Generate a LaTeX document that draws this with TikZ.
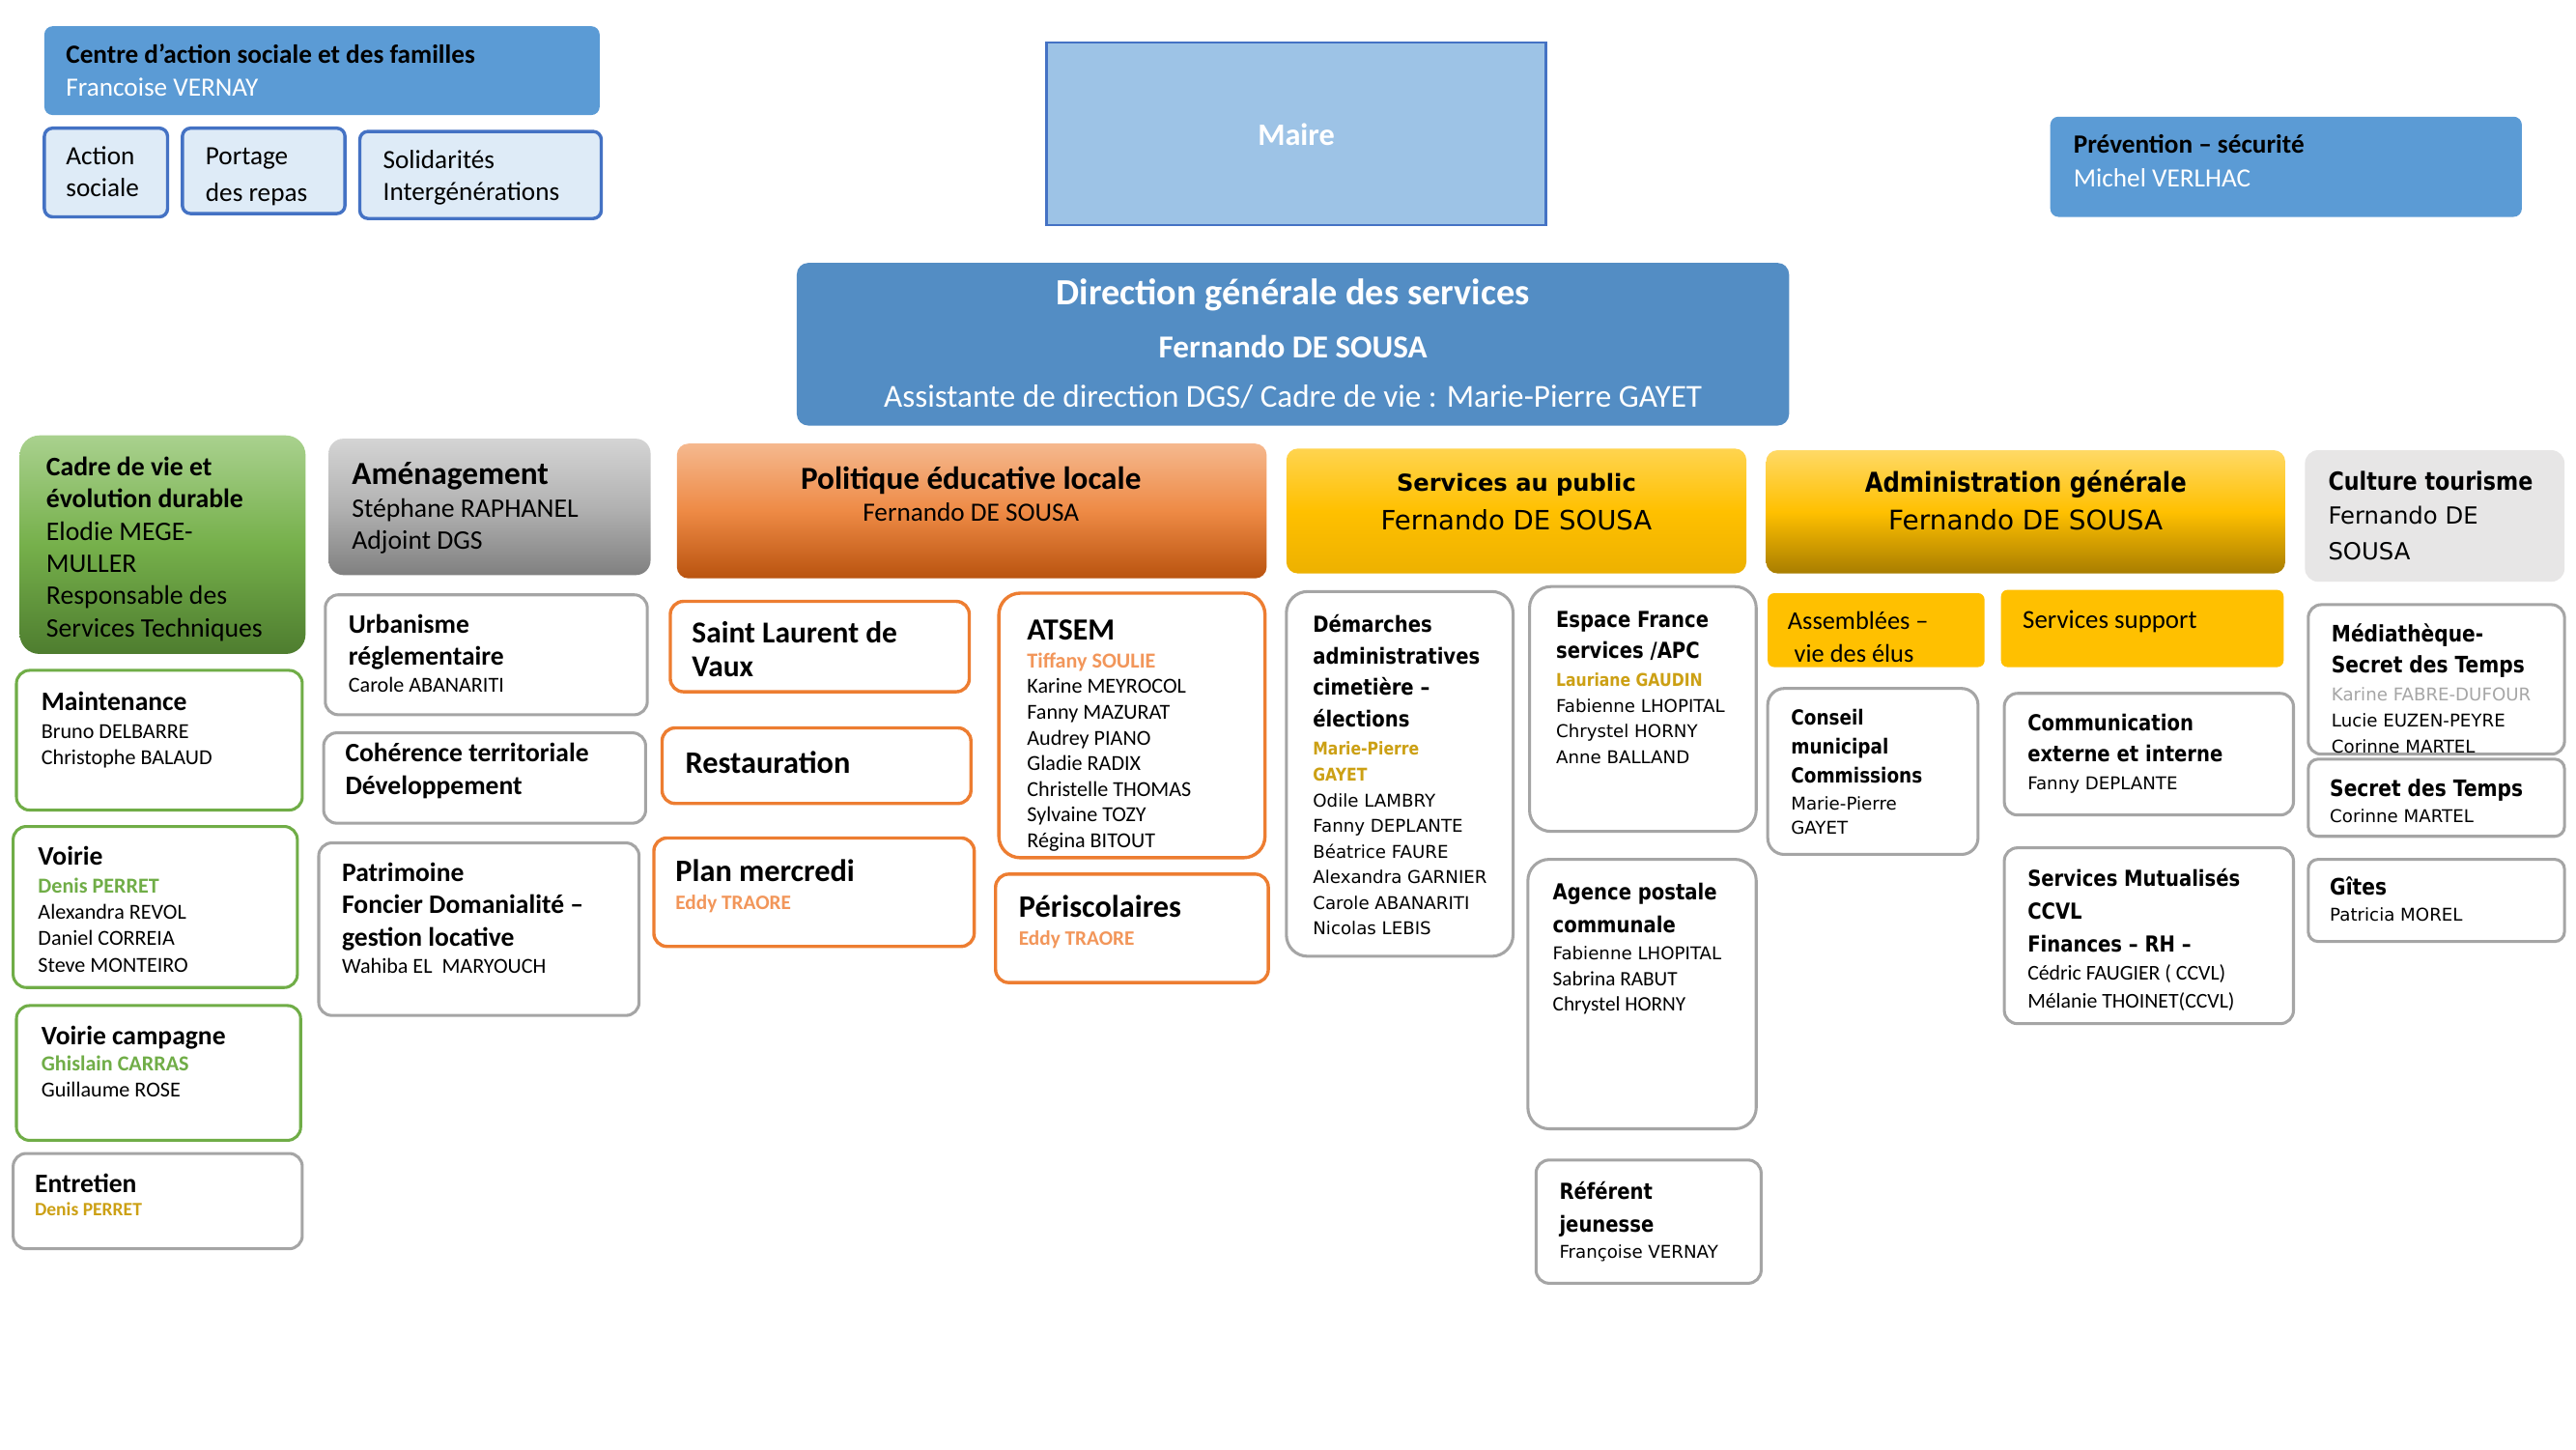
\documentclass[tikz,border=0pt]{standalone}
\usepackage{fontspec}
\setmainfont{Carlito}
\newfontfamily\tah{DejaVu Sans}[BoldFeatures={FakeStretch=0.86}]
\newfontfamily\verd{DejaVu Sans}
\definecolor{cblue}{HTML}{5B9BD5}
\definecolor{dgsblue}{RGB}{83,141,196}
\definecolor{maireblue}{HTML}{9DC3E6}
\definecolor{bordblue}{HTML}{4472C4}
\definecolor{paleblue}{HTML}{DEEBF7}
\definecolor{grn}{HTML}{70AD47}
\definecolor{gry}{HTML}{A5A5A5}
\definecolor{gry2}{HTML}{A6A6A6}
\definecolor{org}{HTML}{ED7D31}
\definecolor{orgtxt}{HTML}{F2965A}
\definecolor{gold}{RGB}{204,160,20}
\definecolor{ylw}{HTML}{FFC000}
\definecolor{ltgray}{HTML}{E7E6E6}
\definecolor{cadtop}{HTML}{A9D18E}
\definecolor{cadmid}{HTML}{76B04B}
\definecolor{cadbot}{HTML}{4E7D2F}
\definecolor{amtop}{HTML}{D4D4D4}
\definecolor{ammid}{HTML}{B2B2B2}
\definecolor{ambot}{HTML}{808080}
\definecolor{poltop}{HTML}{F5B88E}
\definecolor{polmid}{HTML}{EE8A45}
\definecolor{polbot}{HTML}{B9530F}
\definecolor{saptop}{HTML}{FFD44F}
\definecolor{sapmid}{HTML}{FFC000}
\definecolor{sapbot}{HTML}{EDB100}
\definecolor{admtop}{HTML}{FFD966}
\definecolor{admmid}{HTML}{FFC000}
\definecolor{admbot}{HTML}{A87D00}
\def\tfam{}
\tikzset{fam/.code={\def\tfam{#1}}}
\newcommand\bx[6]{\pgfmathsetmacro\bw{#5-#3}\pgfmathsetmacro\bh{#6-#4}%
  \node[#2,anchor=north west,minimum width=\bw pt,minimum height=\bh pt,inner sep=0pt,outer sep=0pt] (#1) at (#3,#4) {};}
\newcommand\tx[7][]{\node[anchor=north west,inner sep=0pt,align=left,font={\tfam\fontsize{#5}{#6}\selectfont},#1] (#2) at (#3,{#4+0.33*#5-0.7*#6}) {\strut#7};}
\begin{document}
\begin{tikzpicture}[x=1pt,y=-1pt,
  gbox/.style={draw=gry,line width=1.8pt,fill=white,rounded corners=8pt},
  grbox/.style={draw=grn,line width=1.8pt,fill=white,rounded corners=8pt},
  obox/.style={draw=org,line width=2pt,fill=white,rounded corners=8pt},
  bbox/.style={draw=bordblue,line width=2pt,fill=paleblue,rounded corners=5pt},
  tb/.style={fam={\tah\bfseries}},
  tr/.style={fam={\tah}},
  cb/.style={fam={\bfseries}}]
\useasboundingbox[fill=white] (0,0) rectangle (1568,882);

% CCAS
\bx{ccas}{fill=cblue,rounded corners=5pt}{27}{16}{365}{70}
\tx{tccas}{40}{33}{16}{20}{\textbf{Centre d’action sociale et des familles}\\\textcolor{white}{Francoise VERNAY}}
\bx{act}{bbox}{27}{78}{102}{132}
\tx{tact}{40}{94.7}{16}{19.6}{Action\\sociale}
\bx{port}{bbox}{111}{78}{210}{130}
\tx{tport}{125}{95}{16}{22}{Portage\\des repas}
\bx{sol}{bbox}{219}{80}{366}{133}
\tx{tsol}{233}{97}{16}{19.6}{Solidarités\\Intergénérations}

% Maire
\bx{maire}{draw=bordblue,line width=1.5pt,fill=maireblue}{637}{26}{941}{137}
\tx[anchor=north,align=center,text=white,cb]{tmaire}{789}{82}{19}{23}{Maire}

% Prevention
\bx{prev}{fill=cblue,rounded corners=5pt}{1248}{71}{1535}{132}
\tx{tprev}{1262}{88}{16}{20}{\textbf{Prévention – sécurité}\\\textcolor{white}{Michel VERLHAC}}

% DGS
\bx{dgs}{fill=dgsblue,rounded corners=7pt}{485}{160}{1089}{259}
\tx[anchor=north,align=center,text=white,cb]{tdgs1}{787}{178}{22.5}{27}{Direction générale des services}
\tx[anchor=north,align=center,text=white,cb]{tdgs2}{787}{211}{19.5}{23}{Fernando DE SOUSA}
\tx[anchor=north,align=center,text=white]{tdgs3}{787}{241}{19.5}{23}{Assistante de direction DGS/ Cadre de vie : Marie-Pierre GAYET}

% Headers
\bx{cadre}{top color=cadtop,bottom color=cadbot,middle color=cadmid,rounded corners=12pt}{12}{265}{186}{398}
\tx{tcadre}{28}{284}{16.3}{19.6}{\textbf{Cadre de vie et}\\\textbf{évolution durable}\\Elodie MEGE-\\MULLER\\Responsable des\\Services Techniques}

\bx{amen}{top color=amtop,bottom color=ambot,middle color=ammid,rounded corners=9pt}{200}{267}{396}{350}
\tx[cb]{tamen1}{214}{288}{19.6}{23}{Aménagement}
\tx{tamen2}{214}{309}{16.3}{19.5}{Stéphane RAPHANEL\\Adjoint DGS}

\bx{pol}{top color=poltop,bottom color=polbot,middle color=polmid,rounded corners=7pt}{412}{270}{771}{352}
\tx[anchor=north,align=center,cb]{tpol1}{591}{291}{19.5}{23}{Politique éducative locale}
\tx[anchor=north,align=center]{tpol2}{591}{312}{16}{19}{Fernando DE SOUSA}

\bx{sap}{top color=saptop,bottom color=sapbot,middle color=sapmid,rounded corners=7pt}{783}{273}{1063}{349}
\tx[anchor=north,align=center,fam={\verd\bfseries}]{tsap1}{923}{294}{14.2}{18}{Services au public}
\tx[anchor=north,align=center,fam={\verd}]{tsap2}{923}{317}{16.2}{20}{Fernando DE SOUSA}

\bx{adm}{top color=admtop,bottom color=admbot,middle color=admmid,rounded corners=7pt}{1075}{274}{1391}{349}
\tx[anchor=north,align=center,tb]{tadm1}{1233}{294}{16.6}{20}{Administration générale}
\tx[anchor=north,align=center,tr]{tadm2}{1233}{317}{16.4}{20}{Fernando DE SOUSA}

\bx{cult}{fill=ltgray,rounded corners=8pt}{1403}{274}{1561}{354}
\tx[tb]{tcult1}{1417}{293}{15.2}{19}{Culture tourisme}
\tx[tr]{tcult2}{1417}{314}{14.3}{21.5}{Fernando DE\\SOUSA}

% Cadre de vie column
\bx{maint}{grbox}{10}{408}{184}{493}
\tx[cb]{tmaint1}{25}{427}{16.2}{19.5}{Maintenance}
\tx{tmaint2}{25}{445}{13}{16}{Bruno DELBARRE\\Christophe BALAUD}
\bx{voirie}{grbox}{8}{503}{181}{601}
\tx[cb]{tvoi1}{23}{521}{16.2}{19.5}{Voirie}
\tx{tvoi2}{23}{539}{13}{16}{\textcolor{grn}{\textbf{Denis PERRET}}\\Alexandra REVOL\\Daniel CORREIA\\Steve MONTEIRO}
\bx{vcamp}{grbox}{10}{612}{183}{694}
\tx[cb]{tvc1}{25}{630}{16.2}{19.5}{Voirie campagne}
\tx{tvc2}{25}{647}{13}{16}{\textcolor{grn}{\textbf{Ghislain CARRAS}}\\Guillaume ROSE}
\bx{entr}{gbox}{8}{702}{184}{760}
\tx[cb]{tent1}{21}{720}{16.2}{19.5}{Entretien}
\tx[cb,text=gold]{tent2}{21}{736}{11.5}{14}{Denis PERRET}

% Amenagement column
\bx{urb}{gbox}{198}{362}{394}{435}
\tx[cb]{turb1}{212}{380}{16.2}{19.5}{Urbanisme\\réglementaire}
\tx{turb2}{212}{417}{13}{16}{Carole ABANARITI}
\bx{coh}{gbox}{197}{446}{393}{501}
\tx[cb]{tcoh}{210}{458}{16.2}{20}{Cohérence territoriale\\Développement}
\bx{pat}{gbox}{194}{513}{389}{618}
\tx[cb]{tpat1}{208}{531}{16.2}{19.6}{Patrimoine\\Foncier Domanialité –\\gestion locative}
\tx{tpat2}{208}{588}{13}{16}{Wahiba EL\ \ MARYOUCH}

% Politique educative column
\bx{slv}{obox}{408}{366}{590}{421}
\tx[cb]{tslv}{421}{385}{18.5}{20.5}{Saint Laurent de\\Vaux}
\bx{rest}{obox}{403}{443}{591}{489}
\tx[cb]{trest}{417}{464}{19}{22}{Restauration}
\bx{plan}{obox}{398}{510}{593}{576}
\tx[cb]{tplan1}{411}{530}{19}{22}{Plan mercredi}
\tx[cb,text=orgtxt]{tplan2}{411}{549}{12.5}{15}{Eddy TRAORE}
\bx{atsem}{obox,rounded corners=13pt}{608}{361}{770}{522}
\tx[cb]{tats1}{625}{383}{18.7}{22}{ATSEM}
\tx{tats2}{625}{402}{13}{15.6}{\textcolor{orgtxt}{\textbf{Tiffany SOULIE}}\\Karine MEYROCOL\\Fanny MAZURAT\\Audrey PIANO\\Gladie RADIX\\Christelle THOMAS\\Sylvaine TOZY\\Régina BITOUT}
\bx{peri}{obox}{606}{532}{772}{598}
\tx[cb]{tperi1}{620}{552}{19}{22}{Périscolaires}
\tx[cb,text=orgtxt]{tperi2}{620}{571}{12.5}{15}{Eddy TRAORE}

% Services au public column
\bx{dem}{gbox,rounded corners=13pt}{783}{360}{921}{582}
\tx[tb]{tdem1}{799}{380}{13.4}{19.3}{Démarches\\administratives\\cimetière –\\élections}
\tx[tr]{tdem2}{799}{456}{10.7}{15.6}{\textcolor{gold}{\textbf{Marie-Pierre}}\\\textcolor{gold}{\textbf{GAYET}}\\Odile LAMBRY\\Fanny DEPLANTE\\Béatrice FAURE\\Alexandra GARNIER\\Carole ABANARITI\\Nicolas LEBIS}
\bx{esp}{gbox,rounded corners=13pt}{931}{357}{1069}{506}
\tx[tb]{tesp1}{947}{377}{13.4}{19.3}{Espace France\\services /APC}
\tx[tr]{tesp2}{947}{414}{10.7}{15.6}{\textcolor{gold}{\textbf{Lauriane GAUDIN}}\\Fabienne LHOPITAL\\Chrystel HORNY\\Anne BALLAND}
\bx{agence}{gbox,rounded corners=13pt}{930}{523}{1069}{687}
\tx[tb]{tage1}{945}{543}{13.4}{20}{Agence postale\\communale}
\tx{tage2}{945}{580}{12.5}{15.6}{{\tah\fontsize{10.7}{15.6}\selectfont Fabienne LHOPITAL}\\Sabrina RABUT\\Chrystel HORNY}
\bx{ref}{gbox}{935}{706}{1072}{781}
\tx[tb]{tref1}{949}{725}{13.4}{20}{Référent\\jeunesse}
\tx[tr]{tref2}{949}{762}{10.7}{15.6}{Françoise VERNAY}

% Administration generale column
\bx{assem}{fill=ylw,rounded corners=4pt}{1076}{361}{1208}{406}
\tx{tassem}{1088}{378}{15.5}{20}{Assemblées –\\\hspace*{4pt}vie des élus}
\bx{supp}{fill=ylw,rounded corners=4pt}{1218}{359}{1390}{406}
\tx{tsupp}{1231}{377}{15.8}{20}{Services support}
\bx{cons}{gbox,rounded corners=10pt}{1076}{419}{1204}{520}
\tx[tb]{tcons1}{1090}{437}{12.6}{17.5}{Conseil\\municipal\\Commissions}
\tx[tr]{tcons2}{1090}{489}{10.7}{15}{Marie-Pierre\\GAYET}
\bx{comm}{gbox}{1220}{422}{1396}{496}
\tx[tb]{tcomm1}{1234}{440}{13.4}{19}{Communication\\externe et interne}
\tx[tr]{tcomm2}{1234}{477}{10.7}{15}{Fanny DEPLANTE}
\bx{mut}{gbox}{1220}{516}{1396}{623}
\tx[tb]{tmut1}{1234}{535}{13.4}{20}{Services Mutualisés\\CCVL\\Finances – RH –}
\tx{tmut2}{1234}{592}{12.8}{17}{Cédric FAUGIER ( CCVL)\\Mélanie THOINET(CCVL)}

% Culture column
\bx{med}{gbox}{1405}{368}{1561}{459}
\begin{scope}
\clip (1405,368) rectangle (1561,458);
\tx[tb]{tmed1}{1419}{386}{13.8}{19}{Médiathèque-\\Secret des Temps}
\tx[tr]{tmed2}{1419}{423}{10.7}{15.7}{\textcolor{gry2}{Karine FABRE-DUFOUR}\\Lucie EUZEN-PEYRE\\Corinne MARTEL}
\end{scope}
\bx{sdt}{gbox,rounded corners=6pt}{1405}{462}{1561}{509}
\tx[tb]{tsdt1}{1418}{480}{13.8}{19}{Secret des Temps}
\tx[tr]{tsdt2}{1418}{497}{10.7}{15}{Corinne MARTEL}
\bx{gites}{gbox,rounded corners=6pt}{1405}{523}{1561}{573}
\tx[tb]{tgit1}{1418}{540}{13.8}{19}{Gîtes}
\tx[tr]{tgit2}{1418}{557}{10.7}{15}{Patricia MOREL}
\end{tikzpicture}
\end{document}
